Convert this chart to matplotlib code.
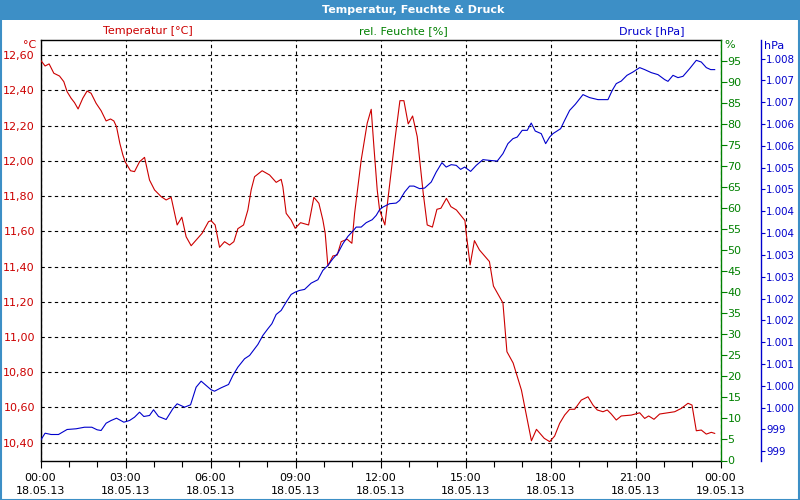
import matplotlib
matplotlib.use("Agg")
import matplotlib.pyplot as plt
from matplotlib.patches import Rectangle
from matplotlib.ticker import MultipleLocator, FixedLocator, FixedFormatter

# ---- data (hours since 18.05.13 00:00) ----
temp_hours = [0.000, 0.162, 0.304, 0.470, 0.671, 0.823, 0.939, 1.080, 1.200, 1.327,
              1.493, 1.645, 1.786, 1.963, 2.139, 2.316, 2.471, 2.588, 2.683, 2.800,
              2.906, 2.987, 3.177, 3.319, 3.495, 3.672, 3.848, 4.025, 4.258, 4.434,
              4.611, 4.823, 4.988, 5.140, 5.317, 5.705, 5.931, 6.023, 6.164, 6.319,
              6.496, 6.673, 6.824, 6.966, 7.167, 7.319, 7.435, 7.555, 7.823, 8.085,
              8.318, 8.494, 8.554, 8.671, 8.847, 8.989, 9.179, 9.462, 9.649, 9.825,
              9.966, 10.048, 10.143, 10.320, 10.471, 10.613, 10.824, 10.990, 11.086, 11.319,
              11.531, 11.672, 11.767, 11.884, 11.968, 12.155, 12.272, 12.508, 12.685, 12.826,
              12.978, 13.133, 13.296, 13.508, 13.649, 13.832, 13.991, 14.132, 14.327, 14.485,
              14.680, 14.980, 15.025, 15.163, 15.315, 15.492, 15.845, 15.986, 16.321, 16.462,
              16.681, 16.974, 17.327, 17.504, 17.779, 17.973, 18.146, 18.323, 18.499, 18.676,
              18.853, 19.086, 19.322, 19.499, 19.650, 19.852, 20.003, 20.145, 20.321, 20.498,
              20.851, 20.992, 21.147, 21.324, 21.465, 21.652, 21.853, 22.146, 22.383, 22.616,
              22.853, 22.994, 23.146, 23.322, 23.499, 23.675, 23.795]
temperature = [12.573, 12.539, 12.551, 12.498, 12.482, 12.450, 12.393, 12.356, 12.331, 12.295,
               12.356, 12.397, 12.384, 12.327, 12.285, 12.227, 12.238, 12.227, 12.194, 12.100,
               12.034, 11.995, 11.944, 11.939, 11.995, 12.020, 11.891, 11.835, 11.797, 11.778,
               11.793, 11.636, 11.680, 11.569, 11.518, 11.589, 11.655, 11.660, 11.636, 11.509,
               11.541, 11.522, 11.541, 11.615, 11.636, 11.721, 11.835, 11.910, 11.944, 11.920,
               11.878, 11.895, 11.853, 11.702, 11.664, 11.617, 11.649, 11.636, 11.793, 11.759,
               11.664, 11.589, 11.403, 11.460, 11.465, 11.541, 11.555, 11.532, 11.702, 12.005,
               12.214, 12.293, 12.081, 11.835, 11.721, 11.636, 11.797, 12.119, 12.342, 12.342,
               12.210, 12.255, 12.138, 11.816, 11.636, 11.624, 11.725, 11.731, 11.787, 11.740,
               11.721, 11.661, 11.589, 11.409, 11.547, 11.494, 11.428, 11.289, 11.193, 10.916,
               10.852, 10.698, 10.410, 10.475, 10.424, 10.405, 10.437, 10.509, 10.556, 10.589,
               10.589, 10.641, 10.660, 10.613, 10.585, 10.575, 10.585, 10.562, 10.528, 10.551,
               10.556, 10.562, 10.569, 10.537, 10.551, 10.532, 10.562, 10.569, 10.575, 10.594,
               10.623, 10.613, 10.467, 10.471, 10.448, 10.458, 10.452]

press_hours = [0.000, 0.162, 0.374, 0.635, 0.939, 1.257, 1.553, 1.811, 1.998, 2.139,
               2.316, 2.492, 2.683, 2.941, 3.142, 3.319, 3.495, 3.647, 3.848, 3.989,
               4.166, 4.434, 4.671, 4.823, 5.084, 5.296, 5.493, 5.670, 5.846, 6.023,
               6.143, 6.376, 6.637, 6.789, 6.966, 7.202, 7.379, 7.672, 7.848, 8.025,
               8.166, 8.318, 8.494, 8.671, 8.847, 8.989, 9.144, 9.320, 9.553, 9.790,
               9.966, 10.143, 10.320, 10.496, 10.673, 10.849, 11.026, 11.142, 11.319, 11.495,
               11.707, 11.848, 11.968, 12.085, 12.321, 12.554, 12.674, 12.851, 13.027, 13.179,
               13.380, 13.557, 13.790, 13.966, 14.168, 14.319, 14.496, 14.672, 14.828, 14.969,
               15.181, 15.379, 15.615, 15.852, 16.120, 16.321, 16.497, 16.674, 16.826, 17.002,
               17.179, 17.320, 17.461, 17.673, 17.829, 17.970, 18.086, 18.358, 18.499, 18.676,
               18.874, 19.146, 19.382, 19.675, 20.028, 20.180, 20.321, 20.498, 20.699, 20.911,
               21.147, 21.324, 21.557, 21.793, 22.030, 22.146, 22.323, 22.499, 22.676, 22.912,
               23.146, 23.322, 23.499, 23.654, 23.795]
pressure = [999.045, 999.213, 999.183, 999.183, 999.298, 999.314, 999.350, 999.350, 999.291, 999.275,
            999.442, 999.504, 999.557, 999.465, 999.504, 999.580, 999.695, 999.596, 999.619, 999.750,
            999.596, 999.527, 999.773, 999.887, 999.809, 999.864, 1000.268, 1000.406, 1000.307, 1000.208,
            1000.176, 1000.254, 1000.330, 1000.536, 1000.727, 1000.919, 1000.995, 1001.247, 1001.454, 1001.607,
            1001.722, 1001.935, 1002.027, 1002.218, 1002.394, 1002.447, 1002.486, 1002.509, 1002.653, 1002.731,
            1002.945, 1003.059, 1003.213, 1003.341, 1003.557, 1003.724, 1003.846, 1003.938, 1003.938, 1004.039,
            1004.107, 1004.206, 1004.337, 1004.396, 1004.474, 1004.488, 1004.550, 1004.740, 1004.878, 1004.878,
            1004.819, 1004.832, 1004.970, 1005.199, 1005.415, 1005.314, 1005.369, 1005.353, 1005.261, 1005.314,
            1005.215, 1005.353, 1005.484, 1005.467, 1005.451, 1005.621, 1005.851, 1005.965, 1006.002, 1006.156,
            1006.156, 1006.323, 1006.140, 1006.080, 1005.851, 1006.002, 1006.080, 1006.194, 1006.385, 1006.614,
            1006.752, 1006.975, 1006.906, 1006.860, 1006.860, 1007.073, 1007.227, 1007.286, 1007.417, 1007.493,
            1007.594, 1007.548, 1007.479, 1007.433, 1007.319, 1007.279, 1007.417, 1007.364, 1007.394, 1007.571,
            1007.761, 1007.722, 1007.594, 1007.548, 1007.548]

x_ticks = [0, 3, 6, 9, 12, 15, 18, 21, 24]
x_tick_labels = ["00:00\n18.05.13", "03:00\n18.05.13", "06:00\n18.05.13", "09:00\n18.05.13",
                 "12:00\n18.05.13", "15:00\n18.05.13", "18:00\n18.05.13", "21:00\n18.05.13",
                 "00:00\n19.05.13"]
temp_ticks = [10.40, 10.60, 10.80, 11.00, 11.20, 11.40, 11.60, 11.80, 12.00, 12.20, 12.40, 12.60]
temp_tick_labels = ["10,40", "10,60", "10,80", "11,00", "11,20", "11,40", "11,60", "11,80",
                    "12,00", "12,20", "12,40", "12,60"]
hum_ticks = list(range(0, 100, 5))
press_ticks = [998.8 + 0.5 * i for i in range(19)]
press_tick_labels = ["999", "999", "1.000", "1.000", "1.001", "1.001", "1.002", "1.002",
                     "1.003", "1.003", "1.004", "1.004", "1.005", "1.005", "1.006", "1.006",
                     "1.007", "1.007", "1.008"]

RED = "#cc0000"
GREEN = "#008000"
BLUE = "#0000cc"
BAR = "#3d8fc6"

plt.rcParams["font.family"] = ["DejaVu Sans"]
plt.rcParams["font.size"] = 8

W, H = 800, 500
DPI = 100
fig = plt.figure(figsize=(8, 5), dpi=DPI, facecolor="white")

def fx(px):
    return px / W

def fy(py):
    return 1 - py / H

# title bar and frame
fig.patches.append(Rectangle((0, fy(20)), 1, 20 / H, transform=fig.transFigure,
                             facecolor=BAR, edgecolor="none", zorder=0))
fig.patches.append(Rectangle((0.5 / W, 0.5 / H), 1 - 1.5 / W, 1 - 1.0 / H, transform=fig.transFigure,
                             facecolor="none", edgecolor=BAR, linewidth=1.5, zorder=0))
fig.text(fx(413), fy(10), "Temperatur, Feuchte & Druck", color="white", fontweight="bold",
         fontsize=8, ha="center", va="center")

ax = fig.add_axes([fx(40.5), fy(460.5), 680 / W, (460.5 - 40.3) / H])
ax.set_facecolor("white")
ax.plot(temp_hours, temperature, color=RED, linewidth=0.8, zorder=3)
ax.set_xlim(0, 24)
ax.set_ylim(10.298, 12.685)
ax.set_yticks(temp_ticks)
ax.set_yticklabels(temp_tick_labels, color=RED)
ax.tick_params(axis="y", length=0, pad=4)
ax.set_xticks(x_ticks)
ax.set_xticklabels(x_tick_labels, linespacing=1.35)
ax.xaxis.set_minor_locator(MultipleLocator(1))
ax.tick_params(axis="x", which="major", length=5, width=0.8, pad=4, color="black")
ax.tick_params(axis="x", which="minor", length=4, width=0.8, color="black")
ax.grid(True, which="major", color="black", linestyle=(0, (3, 3)), linewidth=0.8)
for s in ["left", "top", "bottom"]:
    ax.spines[s].set_color("black")
    ax.spines[s].set_linewidth(1.0)
ax.spines["right"].set_visible(False)

# humidity axis (green)
axh = ax.twinx()
axh.set_ylim(0, 100)
axh.set_yticks(hum_ticks)
axh.set_yticklabels([str(v) for v in hum_ticks], color=GREEN)
axh.tick_params(axis="y", length=4, width=0.8, color=GREEN, pad=1)
for s in ["left", "top", "bottom"]:
    axh.spines[s].set_visible(False)
axh.spines["right"].set_color(GREEN)
axh.spines["right"].set_linewidth(1.0)

# pressure axis (blue), spine 40 px right of the plot edge
axp = ax.twinx()
axp.spines["right"].set_position(("outward", 40 * 72 / DPI))
axp.plot(press_hours, pressure, color=BLUE, linewidth=0.8, zorder=3)
axp.set_ylim(998.587, 1008.22)
axp.yaxis.set_major_locator(FixedLocator(press_ticks))
axp.yaxis.set_major_formatter(FixedFormatter(press_tick_labels))
axp.tick_params(axis="y", length=3, width=0.8, color=BLUE, labelcolor=BLUE, pad=1,
                labelsize=7.4)
for s in ["left", "top", "bottom"]:
    axp.spines[s].set_visible(False)
axp.spines["right"].set_color(BLUE)
axp.spines["right"].set_linewidth(1.0)
axp.set_xlim(0, 24)

# axis captions
fig.text(fx(148), fy(31), "Temperatur [°C]", color=RED, ha="center", va="center")
fig.text(fx(403), fy(31), "rel. Feuchte [%]", color=GREEN, ha="center", va="center")
fig.text(fx(652), fy(31), "Druck [hPa]", color=BLUE, ha="center", va="center")
fig.text(fx(36), fy(45), "°C", color=RED, ha="right", va="center")
fig.text(fx(724), fy(45), "%", color=GREEN, ha="left", va="center")
fig.text(fx(764), fy(46), "hPa", color=BLUE, ha="left", va="center")

fig.savefig("out.png", dpi=DPI, facecolor="white")
